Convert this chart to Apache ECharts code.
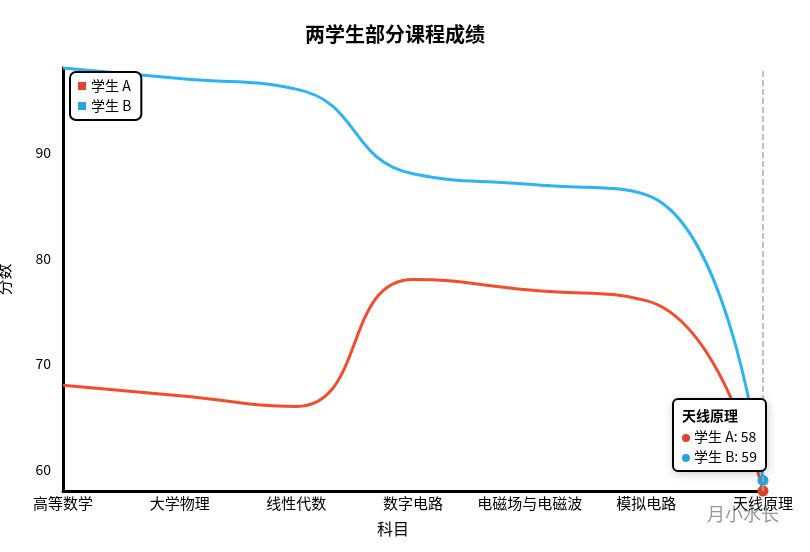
<!DOCTYPE html>
<html><head><meta charset="utf-8">
<script src="https://cdn.jsdelivr.net/npm/echarts@6/dist/echarts.min.js"></script>
<style>html,body{margin:0;padding:0;background:#fff}#c{width:810px;height:552px}</style>
</head><body><div id="c"></div>
<script>
const categories = ['高等数学','大学物理','线性代数','数字电路','电磁场与电磁波','模拟电路','天线原理'];
const studentA = [68, 67, 66, 78, 77, 76, 58];
const studentB = [98, 97, 96, 88, 87, 86, 59];
const seriesNames = ['学生 A', '学生 B'];
const colors = ['#dd4528', '#28a3dd'];
const FONT = '"Noto Sans CJK SC", "Noto Sans", sans-serif';

const chart = echarts.init(document.getElementById('c'));
chart.setOption({
  animation: false,
  textStyle: { fontFamily: FONT },
  title: { text: '两学生部分课程成绩', left: 300, top: 19,
    textStyle: { fontSize: 20, fontWeight: 'bold', color: '#000', fontFamily: FONT } },
  grid: { left: 63, right: 47, top: 68, bottom: 61, outerBoundsMode: 'none', containLabel: false },
  legend: {
    data: seriesNames, orient: 'vertical', left: 70, top: 72,
    backgroundColor: '#fff', borderColor: '#000', borderWidth: 2, borderRadius: 6,
    padding: [7, 10, 7, 8], itemGap: 6, icon: 'rect', itemWidth: 8, itemHeight: 8,
    textStyle: { fontSize: 14, color: '#000', fontFamily: FONT }
  },
  tooltip: {
    trigger: 'axis', alwaysShowContent: true,
    axisPointer: { type: 'line', lineStyle: { color: '#aaa', type: 'dashed', width: 1.5 } },
    backgroundColor: '#fff', borderColor: '#000', borderWidth: 2, borderRadius: 6,
    padding: [4, 8, 4, 8],
    textStyle: { fontSize: 14, color: '#000', fontFamily: FONT },
    position: function () { return [672, 398]; },
    formatter: function (params) {
      let s = '<div style="font-weight:bold;font-size:14px;line-height:22px">' + params[0].axisValue + '</div>';
      params.forEach(p => {
        s += '<div style="line-height:20px"><span style="display:inline-block;width:8px;height:8px;border-radius:4px;background:' + p.color + ';margin-right:4px"></span>' + p.seriesName + ': ' + p.value + '</div>';
      });
      return s;
    }
  },
  xAxis: {
    type: 'category', data: categories, boundaryGap: false,
    name: '科目', nameLocation: 'middle', nameGap: 30,
    nameTextStyle: { fontSize: 16, color: '#000', padding: [0, 40, 0, 0] },
    axisLine: { lineStyle: { color: '#000', width: 3 } },
    axisTick: { show: false },
    axisLabel: { color: '#000', fontSize: 15, margin: 5, interval: 0 },
    splitLine: { show: false }
  },
  yAxis: {
    type: 'value', min: 58, max: 98,
    name: '分数', nameLocation: 'middle', nameGap: 51, nameRotate: 90,
    nameTextStyle: { fontSize: 16, color: '#000' },
    axisLine: { show: true, lineStyle: { color: '#000', width: 3 } },
    axisTick: { show: false },
    axisLabel: { color: '#000', fontSize: 14, margin: 12, showMinLabel: false, showMaxLabel: false },
    splitLine: { show: false }
  },
  series: [
    { name: seriesNames[0], type: 'line', data: studentA, smooth: 0.5, showSymbol: false,
      symbol: 'circle', symbolSize: 10, color: colors[0], lineStyle: { width: 3 } },
    { name: seriesNames[1], type: 'line', data: studentB, smooth: 0.5, showSymbol: false,
      symbol: 'circle', symbolSize: 10, color: colors[1], lineStyle: { width: 3 } }
  ],
  graphic: [
    { type: 'text', left: 707, top: 505, style: { text: '月小水长', fontSize: 18, fill: '#999', fontFamily: FONT } }
  ]
});
chart.dispatchAction({ type: 'showTip', seriesIndex: 0, dataIndex: 6 });
</script></body></html>
